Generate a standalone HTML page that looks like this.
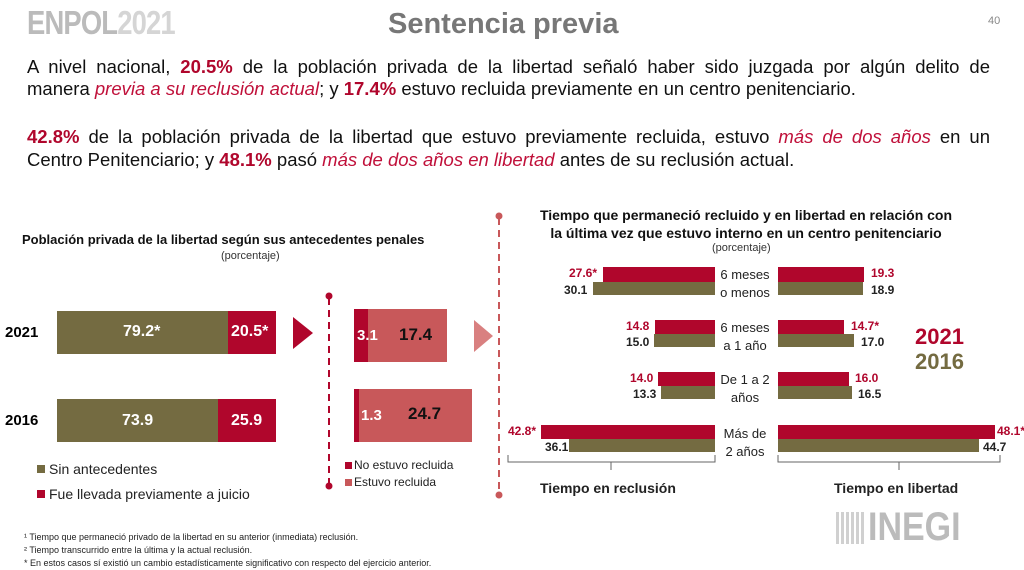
<!DOCTYPE html>
<html><head><meta charset="utf-8"><style>
body{margin:0;width:1024px;height:564px;overflow:hidden;background:#fff;font-family:"Liberation Sans",sans-serif;position:relative}
.a{position:absolute;white-space:nowrap}
.r{color:#b0062c;font-weight:bold}
.ri{color:#c0103a;font-style:italic}
.p{position:absolute;left:27px;width:963px;font-size:18.5px;line-height:22px;color:#111;text-align:justify;text-align-last:justify}
.bar{position:absolute}
.R{background:#b0062c}.O{background:#746b41}.L{background:#c8585a}
.lbl{position:absolute;font-size:12px;font-weight:bold;font-family:"Liberation Sans Narrow","Liberation Sans",sans-serif}
.cl{position:absolute;font-size:13px;text-align:center;width:80px;line-height:18px;color:#222}
</style></head><body>
<div class="a" style="left:27px;top:4px;font-size:33px;font-weight:bold;color:#bbb;letter-spacing:-1px;transform:scaleX(0.83);transform-origin:0 0">ENPOL<span style="color:#d5d5d5">2021</span></div>
<div class="a" style="left:388px;top:8px;font-size:29px;font-weight:bold;color:#777">Sentencia previa</div>
<div class="a" style="left:988px;top:15px;font-size:11px;color:#888">40</div>
<div class="p" style="top:56px">A nivel nacional, <span class="r">20.5%</span> de la población privada de la libertad señaló haber sido juzgada por algún delito de</div>
<div class="p" style="top:78px;text-align-last:left">manera <span class="ri">previa a su reclusión actual</span>; y <span class="r">17.4%</span> estuvo recluida previamente en un centro penitenciario.</div>
<div class="p" style="top:126px"><span class="r">42.8%</span> de la población privada de la libertad que estuvo previamente recluida, estuvo <span class="ri">más de dos años</span> en un</div>
<div class="p" style="top:149px;text-align-last:left">Centro Penitenciario; y <span class="r">48.1%</span> pasó <span class="ri">más de dos años en libertad</span> antes de su reclusión actual.</div>

<div class="a" style="left:22px;top:232px;font-size:13px;font-weight:bold;color:#111">Población privada de la libertad según sus antecedentes penales</div>
<div class="a" style="left:221px;top:250px;font-size:11px;color:#333">(porcentaje)</div>
<div class="a" style="left:5px;top:324px;font-size:15px;font-weight:bold">2021</div>
<div class="a" style="left:5px;top:412px;font-size:15px;font-weight:bold">2016</div>
<div class="bar O" style="left:57px;top:311px;width:171px;height:43px"></div>
<div class="bar R" style="left:228px;top:311px;width:48px;height:43px"></div>
<div class="bar O" style="left:57px;top:399px;width:161px;height:43px"></div>
<div class="bar R" style="left:218px;top:399px;width:58px;height:43px"></div>
<div class="a" style="left:123px;top:323px;font-size:16px;color:#fff;font-weight:bold;font-family:'Liberation Sans Narrow','Liberation Sans',sans-serif">79.2*</div>
<div class="a" style="left:231px;top:323px;font-size:16px;color:#fff;font-weight:bold;font-family:'Liberation Sans Narrow','Liberation Sans',sans-serif">20.5*</div>
<div class="a" style="left:122px;top:412px;font-size:16px;color:#fff;font-weight:bold;font-family:'Liberation Sans Narrow','Liberation Sans',sans-serif">73.9</div>
<div class="a" style="left:231px;top:412px;font-size:16px;color:#fff;font-weight:bold;font-family:'Liberation Sans Narrow','Liberation Sans',sans-serif">25.9</div>
<div class="bar O" style="left:37px;top:465px;width:8px;height:8px"></div>
<div class="a" style="left:49px;top:461px;font-size:14px;color:#222">Sin antecedentes</div>
<div class="bar R" style="left:37px;top:490px;width:8px;height:8px"></div>
<div class="a" style="left:49px;top:486px;font-size:14px;color:#222">Fue llevada previamente a juicio</div>

<svg class="a" style="left:0;top:0" width="1024" height="564">
<polygon points="293,317 313,333 293,349" fill="#b0062c"/>
<polygon points="474,320 493,336 474,352" fill="#d98080"/>
<line x1="329" y1="298" x2="329" y2="486" stroke="#b0062c" stroke-width="2" stroke-dasharray="7,5"/>
<circle cx="329" cy="296" r="3.5" fill="#b0062c"/><circle cx="329" cy="486" r="3.5" fill="#b0062c"/>
<line x1="499" y1="218" x2="499" y2="495" stroke="#c8585a" stroke-width="2" stroke-dasharray="7,5"/>
<circle cx="499" cy="216" r="3.5" fill="#c8585a"/><circle cx="499" cy="495" r="3.5" fill="#c8585a"/>
<path d="M508,455 V462 H715 V455 M611,462 V470" fill="none" stroke="#666" stroke-width="1"/>
<path d="M778,455 V462 H1000 V455 M899,462 V470" fill="none" stroke="#666" stroke-width="1"/>
</svg>

<div class="bar L" style="left:354px;top:309px;width:93px;height:53px"></div>
<div class="bar R" style="left:354px;top:309px;width:14px;height:53px"></div>
<div class="bar L" style="left:354px;top:389px;width:118px;height:53px"></div>
<div class="bar R" style="left:354px;top:389px;width:5px;height:53px"></div>
<div class="a" style="left:357px;top:327px;font-size:15px;color:#fff;font-weight:bold;font-family:'Liberation Sans Narrow','Liberation Sans',sans-serif">3.1</div>
<div class="a" style="left:399px;top:325px;font-size:17px;color:#111;font-weight:bold;font-family:'Liberation Sans Narrow','Liberation Sans',sans-serif">17.4</div>
<div class="a" style="left:361px;top:407px;font-size:15px;color:#fff;font-weight:bold;font-family:'Liberation Sans Narrow','Liberation Sans',sans-serif">1.3</div>
<div class="a" style="left:408px;top:404px;font-size:17px;color:#111;font-weight:bold;font-family:'Liberation Sans Narrow','Liberation Sans',sans-serif">24.7</div>
<div class="bar R" style="left:345px;top:462px;width:7px;height:7px"></div>
<div class="a" style="left:354px;top:458px;font-size:12px;color:#222">No estuvo recluida</div>
<div class="bar L" style="left:345px;top:479px;width:7px;height:7px"></div>
<div class="a" style="left:354px;top:475px;font-size:12px;color:#222">Estuvo recluida</div>

<div class="a" style="left:516px;top:206px;font-size:14px;font-weight:bold;color:#111;text-align:center;width:460px;line-height:18px">Tiempo que permaneció recluido y en libertad en relación con<br>la última vez que estuvo interno en un centro penitenciario</div>
<div class="a" style="left:712px;top:242px;font-size:11px;color:#333">(porcentaje)</div>

<!-- row1 -->
<div class="bar R" style="left:603px;top:267px;width:112px;height:15px"></div>
<div class="bar O" style="left:593px;top:282px;width:122px;height:13px"></div>
<div class="bar R" style="left:778px;top:267px;width:86px;height:15px"></div>
<div class="bar O" style="left:778px;top:282px;width:85px;height:13px"></div>
<div class="lbl" style="left:569px;top:266px;color:#b0062c">27.6*</div>
<div class="lbl" style="left:564px;top:283px;color:#222">30.1</div>
<div class="lbl" style="left:871px;top:266px;color:#b0062c">19.3</div>
<div class="lbl" style="left:871px;top:283px;color:#222">18.9</div>
<div class="cl" style="left:705px;top:266px">6 meses<br>o menos</div>
<!-- row2 -->
<div class="bar R" style="left:655px;top:320px;width:60px;height:14px"></div>
<div class="bar O" style="left:654px;top:334px;width:61px;height:13px"></div>
<div class="bar R" style="left:778px;top:320px;width:66px;height:14px"></div>
<div class="bar O" style="left:778px;top:334px;width:76px;height:13px"></div>
<div class="lbl" style="left:626px;top:319px;color:#b0062c">14.8</div>
<div class="lbl" style="left:626px;top:335px;color:#222">15.0</div>
<div class="lbl" style="left:851px;top:319px;color:#b0062c">14.7*</div>
<div class="lbl" style="left:861px;top:335px;color:#222">17.0</div>
<div class="cl" style="left:705px;top:319px">6 meses<br>a 1 año</div>
<!-- row3 -->
<div class="bar R" style="left:658px;top:372px;width:57px;height:14px"></div>
<div class="bar O" style="left:661px;top:386px;width:54px;height:13px"></div>
<div class="bar R" style="left:778px;top:372px;width:71px;height:14px"></div>
<div class="bar O" style="left:778px;top:386px;width:74px;height:13px"></div>
<div class="lbl" style="left:630px;top:371px;color:#b0062c">14.0</div>
<div class="lbl" style="left:633px;top:387px;color:#222">13.3</div>
<div class="lbl" style="left:855px;top:371px;color:#b0062c">16.0</div>
<div class="lbl" style="left:858px;top:387px;color:#222">16.5</div>
<div class="cl" style="left:705px;top:371px">De 1 a 2<br>años</div>
<!-- row4 -->
<div class="bar R" style="left:541px;top:425px;width:174px;height:14px"></div>
<div class="bar O" style="left:569px;top:439px;width:146px;height:13px"></div>
<div class="bar R" style="left:778px;top:425px;width:217px;height:14px"></div>
<div class="bar O" style="left:778px;top:439px;width:201px;height:13px"></div>
<div class="lbl" style="left:508px;top:424px;color:#b0062c">42.8*</div>
<div class="lbl" style="left:545px;top:440px;color:#222">36.1</div>
<div class="lbl" style="left:997px;top:424px;color:#b0062c">48.1*</div>
<div class="lbl" style="left:983px;top:440px;color:#222">44.7</div>
<div class="cl" style="left:705px;top:425px">Más de<br>2 años</div>

<div class="a" style="left:540px;top:480px;font-size:14px;font-weight:bold;color:#222">Tiempo en reclusión</div>
<div class="a" style="left:834px;top:480px;font-size:14px;font-weight:bold;color:#222">Tiempo en libertad</div>
<div class="a" style="left:915px;top:324px;font-size:22px;font-weight:bold;color:#b0062c">2021</div>
<div class="a" style="left:915px;top:349px;font-size:22px;font-weight:bold;color:#746b41">2016</div>

<div class="a" style="left:24px;top:531px;font-size:9px;color:#222;line-height:13px">¹ Tiempo que permaneció privado de la libertad en su anterior (inmediata) reclusión.<br>² Tiempo transcurrido entre la última y la actual reclusión.<br>* En estos casos sí existió un cambio estadísticamente significativo con respecto del ejercicio anterior.</div>
<div class="a" style="left:836px;top:512px;width:28px;height:32px;background:repeating-linear-gradient(90deg,#ccc 0 3px,transparent 3px 5px),#fff;opacity:.9"></div>
<div class="a" style="left:868px;top:505px;font-size:40px;font-weight:bold;color:#bbb;transform:scaleX(0.85);transform-origin:0 0">INEGI</div>
</body></html>
